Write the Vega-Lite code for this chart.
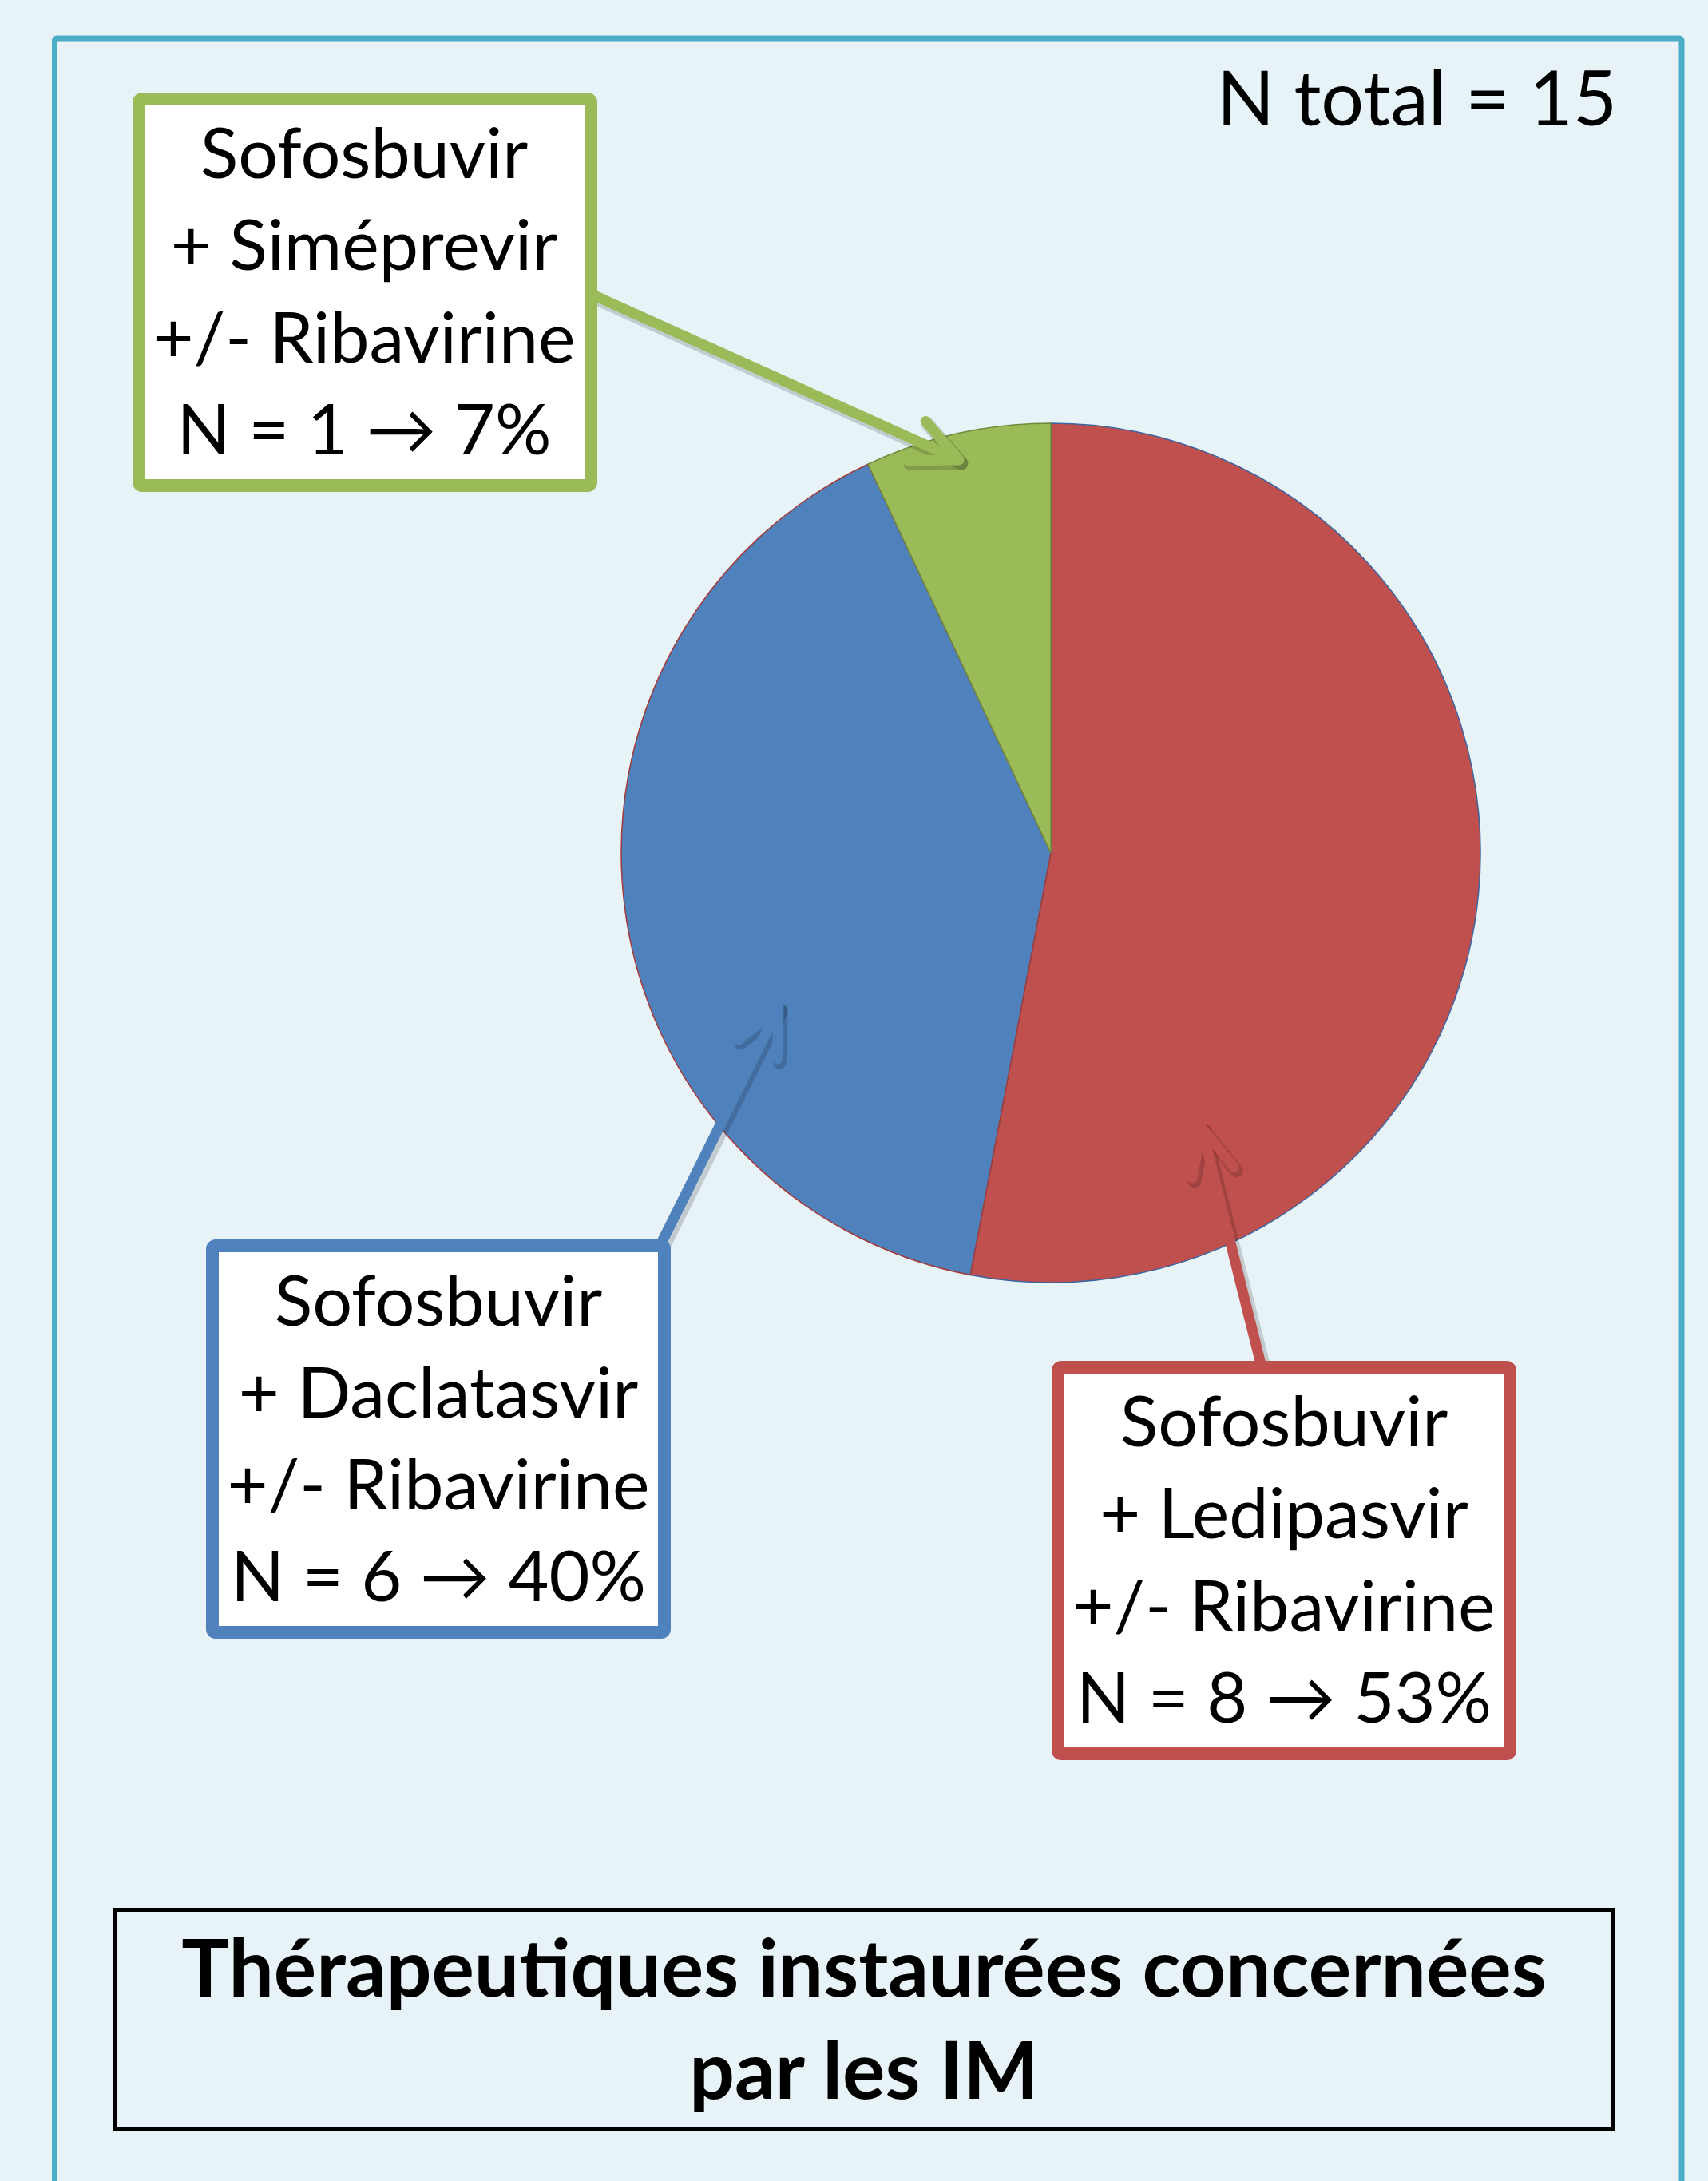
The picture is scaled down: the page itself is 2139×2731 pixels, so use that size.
{
  "$schema": "https://vega.github.io/schema/vega-lite/v6.json",
  "width": 2139,
  "height": 2731,
  "padding": 0,
  "autosize": {"type": "none"},
  "background": "#E8F3F8",
  "config": {"view": {"stroke": null, "fill": null}, "axis": {"disable": true}, "legend": {"disable": true}},
  "datasets": {
    "therapies": [
      {"therapie": "Sofosbuvir + Ledipasvir +/- Ribavirine", "n": 8, "pct": 53, "libelle": "Sofosbuvir\n+ Ledipasvir\n+/- Ribavirine\nN = 8 → 53%"},
      {"therapie": "Sofosbuvir + Daclatasvir +/- Ribavirine", "n": 6, "pct": 40, "libelle": "Sofosbuvir\n+ Daclatasvir\n+/- Ribavirine\nN = 6 → 40%"},
      {"therapie": "Sofosbuvir + Siméprevir +/- Ribavirine", "n": 1, "pct": 7, "libelle": "Sofosbuvir\n+ Siméprevir\n+/- Ribavirine\nN = 1 → 7%"}
    ],
    "textes": [
      {"role": "total", "texte": "N total = 15"},
      {"role": "titre", "texte": "Thérapeutiques instaurées concernées\npar les IM"}
    ]
  },
  "data": {"name": "therapies"},
  "layer": [
    {
      "data": {"name": "textes"},
      "transform": [{"filter": "datum.role == 'titre'"}],
      "mark": {"type": "rect", "filled": false, "stroke": "#4BACC6", "strokeWidth": 7, "cornerRadius": 3},
      "encoding": {
        "x": {"datum": 68.5, "type": "quantitative", "scale": {"domain": [0, 2139], "nice": false, "zero": false}, "axis": null},
        "x2": {"datum": 2106},
        "y": {"datum": 48, "type": "quantitative", "scale": {"domain": [0, 2731], "reverse": true, "nice": false, "zero": false}, "axis": null},
        "y2": {"datum": 2800}
      }
    },
    {
      "transform": [{"stack": "pct", "groupby": [], "sort": [{"field": "pct", "order": "descending"}], "as": ["t0", "t1"]}],
      "mark": {"type": "arc", "outerRadius": 538, "innerRadius": 0, "strokeWidth": 1.5},
      "encoding": {
        "x": {"datum": 1316, "type": "quantitative", "stack": null},
        "y": {"datum": 1068, "type": "quantitative", "stack": null},
        "theta": {"field": "t0", "type": "quantitative", "scale": {"domain": [0, 100]}},
        "theta2": {"field": "t1"},
        "color": {
          "field": "therapie", "type": "nominal", "legend": null,
          "scale": {"domain": ["Sofosbuvir + Ledipasvir +/- Ribavirine", "Sofosbuvir + Daclatasvir +/- Ribavirine", "Sofosbuvir + Siméprevir +/- Ribavirine"], "range": ["#C0504D", "#4F81BD", "#9BBB59"]}
        },
        "stroke": {
          "field": "therapie", "type": "nominal", "legend": null,
          "scale": {"domain": ["Sofosbuvir + Ledipasvir +/- Ribavirine", "Sofosbuvir + Daclatasvir +/- Ribavirine", "Sofosbuvir + Siméprevir +/- Ribavirine"], "range": ["#3B64A0", "#A33A37", "#6F8A3A"]}
        }
      }
    },
    {
      "transform": [{"filter": "datum.n == 1"}],
      "layer": [
        {
          "mark": {"type": "rule", "stroke": "#000000", "strokeOpacity": 0.16, "strokeWidth": 17, "strokeCap": "round"},
          "encoding": {"x": {"datum": 745}, "y": {"datum": 373}, "x2": {"datum": 1204}, "y2": {"datum": 580}}
        },
        {
          "mark": {"type": "point", "shape": "M-1,-0.466L0,0L-1,0.466", "size": 13500, "filled": false, "opacity": 1, "stroke": "#000000", "strokeOpacity": 0.16, "strokeWidth": 17, "strokeCap": "round", "strokeJoin": "round", "angle": 24.3},
          "encoding": {"x": {"datum": 1204}, "y": {"datum": 580}}
        },
        {
          "mark": {"type": "rule", "stroke": "#9BBB59", "strokeWidth": 13, "strokeCap": "butt"},
          "encoding": {"x": {"datum": 742}, "y": {"datum": 369}, "x2": {"datum": 1201}, "y2": {"datum": 576}}
        },
        {
          "mark": {"type": "point", "shape": "M-1,-0.466L0,0L-1,0.466", "size": 13500, "filled": false, "opacity": 1, "stroke": "#9BBB59", "strokeWidth": 13, "strokeCap": "round", "strokeJoin": "round", "angle": 24.3},
          "encoding": {"x": {"datum": 1201}, "y": {"datum": 576}}
        },
        {
          "mark": {"type": "rect", "fill": "white", "stroke": "#9BBB59", "strokeWidth": 16, "cornerRadius": 4},
          "encoding": {"x": {"datum": 174}, "x2": {"datum": 740}, "y": {"datum": 124}, "y2": {"datum": 608}}
        },
        {
          "mark": {"type": "text", "font": "Lato", "fontSize": 88, "align": "center", "baseline": "alphabetic", "lineBreak": "\n", "lineHeight": 115.3, "color": "#000000"},
          "encoding": {"x": {"datum": 456}, "y": {"datum": 223}, "text": {"field": "libelle"}}
        }
      ]
    },
    {
      "transform": [{"filter": "datum.n == 6"}],
      "layer": [
        {
          "mark": {"type": "rule", "stroke": "#000000", "strokeOpacity": 0.16, "strokeWidth": 17, "strokeCap": "round"},
          "encoding": {"x": {"datum": 832}, "y": {"datum": 1559}, "x2": {"datum": 978}, "y2": {"datum": 1266}}
        },
        {
          "mark": {"type": "point", "shape": "M-1,-0.466L0,0L-1,0.466", "size": 13500, "filled": false, "opacity": 1, "stroke": "#000000", "strokeOpacity": 0.16, "strokeWidth": 17, "strokeCap": "round", "strokeJoin": "round", "angle": -63.5},
          "encoding": {"x": {"datum": 978}, "y": {"datum": 1266}}
        },
        {
          "mark": {"type": "rule", "stroke": "#4F81BD", "strokeWidth": 13, "strokeCap": "butt"},
          "encoding": {"x": {"datum": 829}, "y": {"datum": 1555}, "x2": {"datum": 975}, "y2": {"datum": 1262}}
        },
        {
          "mark": {"type": "point", "shape": "M-1,-0.466L0,0L-1,0.466", "size": 13500, "filled": false, "opacity": 1, "stroke": "#4F81BD", "strokeWidth": 13, "strokeCap": "round", "strokeJoin": "round", "angle": -63.5},
          "encoding": {"x": {"datum": 975}, "y": {"datum": 1262}}
        },
        {
          "mark": {"type": "rect", "fill": "white", "stroke": "#4F81BD", "strokeWidth": 16, "cornerRadius": 4},
          "encoding": {"x": {"datum": 266}, "x2": {"datum": 832}, "y": {"datum": 1560}, "y2": {"datum": 2044}}
        },
        {
          "mark": {"type": "text", "font": "Lato", "fontSize": 88, "align": "center", "baseline": "alphabetic", "lineBreak": "\n", "lineHeight": 115, "color": "#000000"},
          "encoding": {"x": {"datum": 549}, "y": {"datum": 1660}, "text": {"field": "libelle"}}
        }
      ]
    },
    {
      "transform": [{"filter": "datum.n == 8"}],
      "layer": [
        {
          "mark": {"type": "rule", "stroke": "#000000", "strokeOpacity": 0.16, "strokeWidth": 17, "strokeCap": "round"},
          "encoding": {"x": {"datum": 1583}, "y": {"datum": 1712}, "x2": {"datum": 1508}, "y2": {"datum": 1416}}
        },
        {
          "mark": {"type": "point", "shape": "M-1,-0.466L0,0L-1,0.466", "size": 13500, "filled": false, "opacity": 1, "stroke": "#000000", "strokeOpacity": 0.16, "strokeWidth": 17, "strokeCap": "round", "strokeJoin": "round", "angle": -104.1},
          "encoding": {"x": {"datum": 1508}, "y": {"datum": 1416}}
        },
        {
          "mark": {"type": "rule", "stroke": "#C0504D", "strokeWidth": 13, "strokeCap": "butt"},
          "encoding": {"x": {"datum": 1580}, "y": {"datum": 1712}, "x2": {"datum": 1505}, "y2": {"datum": 1412}}
        },
        {
          "mark": {"type": "point", "shape": "M-1,-0.466L0,0L-1,0.466", "size": 13500, "filled": false, "opacity": 1, "stroke": "#C0504D", "strokeWidth": 13, "strokeCap": "round", "strokeJoin": "round", "angle": -104.1},
          "encoding": {"x": {"datum": 1505}, "y": {"datum": 1412}}
        },
        {
          "mark": {"type": "rect", "fill": "white", "stroke": "#C0504D", "strokeWidth": 16, "cornerRadius": 4},
          "encoding": {"x": {"datum": 1325}, "x2": {"datum": 1891}, "y": {"datum": 1712}, "y2": {"datum": 2196}}
        },
        {
          "mark": {"type": "text", "font": "Lato", "fontSize": 88, "align": "center", "baseline": "alphabetic", "lineBreak": "\n", "lineHeight": 115.5, "color": "#000000"},
          "encoding": {"x": {"datum": 1608}, "y": {"datum": 1810.5}, "text": {"field": "libelle"}}
        }
      ]
    },
    {
      "data": {"name": "textes"},
      "transform": [{"filter": "datum.role == 'titre'"}],
      "layer": [
        {
          "mark": {"type": "rect", "filled": false, "stroke": "#000000", "strokeWidth": 5},
          "encoding": {"x": {"datum": 143.5}, "x2": {"datum": 2020.5}, "y": {"datum": 2391.5}, "y2": {"datum": 2666.5}}
        },
        {
          "mark": {"type": "text", "font": "Lato", "fontWeight": "bold", "fontSize": 100, "align": "center", "baseline": "alphabetic", "lineBreak": "\n", "lineHeight": 128, "color": "#000000"},
          "encoding": {"x": {"datum": 1082}, "y": {"datum": 2500}, "text": {"field": "texte"}}
        }
      ]
    },
    {
      "data": {"name": "textes"},
      "transform": [{"filter": "datum.role == 'total'"}],
      "mark": {"type": "text", "font": "Lato", "fontSize": 95, "align": "right", "baseline": "alphabetic", "color": "#000000"},
      "encoding": {"x": {"datum": 2025}, "y": {"datum": 157}, "text": {"field": "texte"}}
    }
  ]
}
